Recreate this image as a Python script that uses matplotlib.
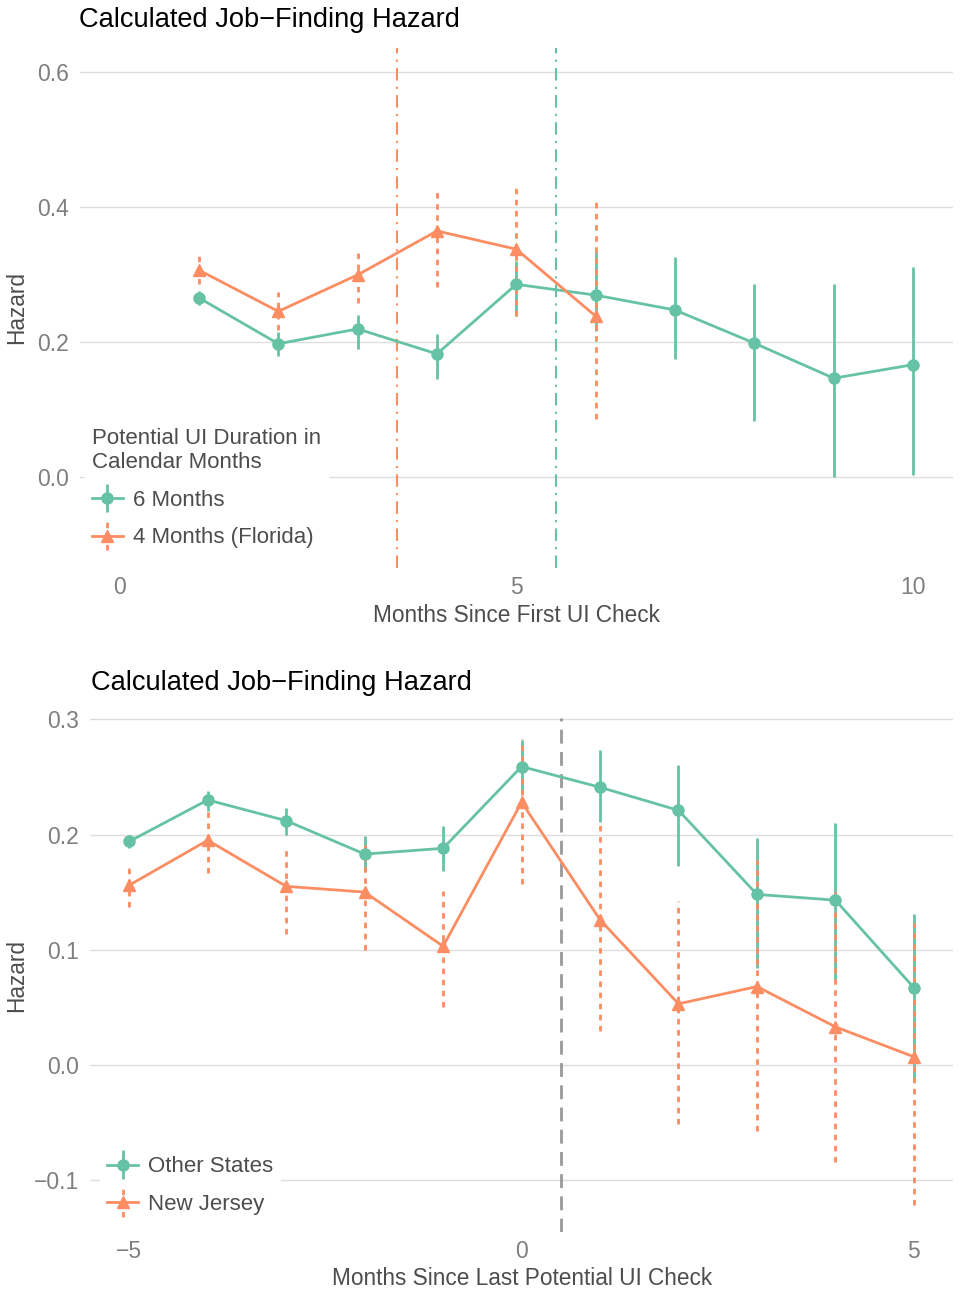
import matplotlib
matplotlib.use('Agg')
import matplotlib.pyplot as plt
from matplotlib.container import ErrorbarContainer
from matplotlib.legend_handler import HandlerErrorbar

plt.rcParams['font.family'] = ['Liberation Sans', 'DejaVu Sans']

GREEN = '#66c2a5'
ORANGE = '#fc8d62'
TICK = '#7f7f7f'
TEXT = '#4d4d4d'
GRID = '#dedede'

# Panel 1: months since first UI check
months_first = [1, 2, 3, 4, 5, 6, 7, 8, 9, 10]
six_hazard = [0.265, 0.197, 0.219, 0.182, 0.285, 0.269, 0.247, 0.198, 0.146, 0.166]
six_lo = [0.255, 0.179, 0.189, 0.145, 0.238, 0.216, 0.174, 0.083, 0.000, 0.003]
six_hi = [0.275, 0.214, 0.239, 0.211, 0.319, 0.333, 0.325, 0.285, 0.285, 0.310]

months_fl = [1, 2, 3, 4, 5, 6]
fl_hazard = [0.306, 0.245, 0.299, 0.364, 0.337, 0.238]
fl_lo = [0.285, 0.217, 0.258, 0.281, 0.238, 0.086]
fl_hi = [0.327, 0.273, 0.338, 0.423, 0.430, 0.408]

exhaust_fl = 3.5
exhaust_six = 5.5

# Panel 2: months since last potential UI check
months_last = [-5, -4, -3, -2, -1, 0, 1, 2, 3, 4, 5]
other_hazard = [0.194, 0.230, 0.212, 0.183, 0.188, 0.259, 0.241, 0.221, 0.148, 0.143, 0.067]
other_lo = [0.188, 0.220, 0.200, 0.169, 0.168, 0.236, 0.211, 0.173, 0.084, 0.074, -0.015]
other_hi = [0.200, 0.238, 0.223, 0.199, 0.207, 0.282, 0.273, 0.260, 0.197, 0.210, 0.131]

nj_hazard = [0.156, 0.195, 0.155, 0.150, 0.103, 0.228, 0.126, 0.053, 0.068, 0.033, 0.007]
nj_lo = [0.137, 0.167, 0.114, 0.100, 0.050, 0.157, 0.029, -0.051, -0.057, -0.084, -0.122]
nj_hi = [0.171, 0.221, 0.189, 0.191, 0.151, 0.283, 0.211, 0.142, 0.178, 0.150, 0.123]

last_check = 0.5

TITLE = 'Calculated Job\u2212Finding Hazard'


def draw_series(ax, x, y, lo, hi, color, marker, bar_style, label):
    err = [[v - l for v, l in zip(y, lo)], [h - v for v, h in zip(y, hi)]]
    eb = ax.errorbar(x, y, yerr=err, color=color, marker=marker, markersize=8,
                     linewidth=2, elinewidth=2, capsize=0, label=label, zorder=3)
    for bar in eb[2]:
        bar.set_linestyle(bar_style)
    return eb


def style_axes(ax, xlabel, ylab_x):
    for s in ax.spines.values():
        s.set_visible(False)
    ax.grid(axis='y', color=GRID, linewidth=1)
    ax.grid(axis='x', visible=False)
    ax.set_axisbelow(True)
    ax.tick_params(axis='y', length=0, labelsize=16.5, labelcolor=TICK, pad=8)
    ax.tick_params(axis='x', length=0, labelsize=16.5, labelcolor=TICK, pad=6)
    ax.set_xlabel(xlabel, fontsize=16.3, color=TEXT)
    ax.set_ylabel('Hazard', fontsize=16.3, color=TEXT)
    ax.xaxis.set_label_coords(0.5, -0.069)
    ax.yaxis.set_label_coords(ylab_x, 0.5)


def add_legend(ax, handles, anchor, title=None):
    leg = ax.legend(handles=handles, title=title, loc='lower left',
                    bbox_to_anchor=anchor, frameon=True, fontsize=16,
                    title_fontsize=16, handlelength=1.4, handletextpad=0.45,
                    borderpad=0.3, labelspacing=0.75, borderaxespad=0,
                    handler_map={ErrorbarContainer: HandlerErrorbar(yerr_size=0.65)})
    leg.get_frame().set_facecolor('white')
    leg.get_frame().set_edgecolor('white')
    leg.get_frame().set_alpha(1)
    leg._legend_box.align = 'left'
    if title:
        leg.get_title().set_color(TEXT)
    for t in leg.get_texts():
        t.set_color(TEXT)
    return leg


fig = plt.figure(figsize=(9.6, 12.94), dpi=100)

ax1 = fig.add_axes([0.0833, 0.561, 0.909, 0.402])
ax1.axvline(exhaust_fl, color=ORANGE, linestyle=(0, (6, 3, 1, 3)), linewidth=1.5, zorder=2)
ax1.axvline(exhaust_six, color=GREEN, linestyle=(0, (6, 3, 1, 3)), linewidth=1.5, zorder=2)
h1 = draw_series(ax1, months_first, six_hazard, six_lo, six_hi, GREEN, 'o', '-', '6 Months')
h2 = draw_series(ax1, months_fl, fl_hazard, fl_lo, fl_hi, ORANGE, '^', (0, (2, 2)), '4 Months (Florida)')
ax1.set_xlim(-0.5, 10.5)
ax1.set_ylim(-0.135, 0.635)
ax1.set_xticks([0, 5, 10])
ax1.set_yticks([0.0, 0.2, 0.4, 0.6])
ax1.set_yticklabels(['0.0', '0.2', '0.4', '0.6'])
style_axes(ax1, 'Months Since First UI Check', -0.0596)
add_legend(ax1, [h1, h2], (0.006, 0.025), 'Potential UI Duration in\nCalendar Months')
fig.text(79 / 960, 1 - 20 / 1294, TITLE, fontsize=19.6, color='black', va='center', ha='left')

ax2 = fig.add_axes([0.0938, 0.048, 0.899, 0.397])
ax2.axvline(last_check, color='#999999', linestyle=(0, (5, 3)), linewidth=2, zorder=2)
g1 = draw_series(ax2, months_last, other_hazard, other_lo, other_hi, GREEN, 'o', '-', 'Other States')
g2 = draw_series(ax2, months_last, nj_hazard, nj_lo, nj_hi, ORANGE, '^', (0, (2, 2)), 'New Jersey')
ax2.set_xlim(-5.5, 5.5)
ax2.set_ylim(-0.145, 0.301)
ax2.set_xticks([-5, 0, 5])
ax2.set_xticklabels(['\u22125', '0', '5'])
ax2.set_yticks([-0.1, 0.0, 0.1, 0.2, 0.3])
ax2.set_yticklabels(['\u22120.1', '0.0', '0.1', '0.2', '0.3'])
style_axes(ax2, 'Months Since Last Potential UI Check', -0.0718)
add_legend(ax2, [g1, g2], (0.012, 0.02))
fig.text(91 / 960, 1 - 683 / 1294, TITLE, fontsize=19.6, color='black', va='center', ha='left')

fig.savefig('out.png', dpi=100, facecolor='white')
